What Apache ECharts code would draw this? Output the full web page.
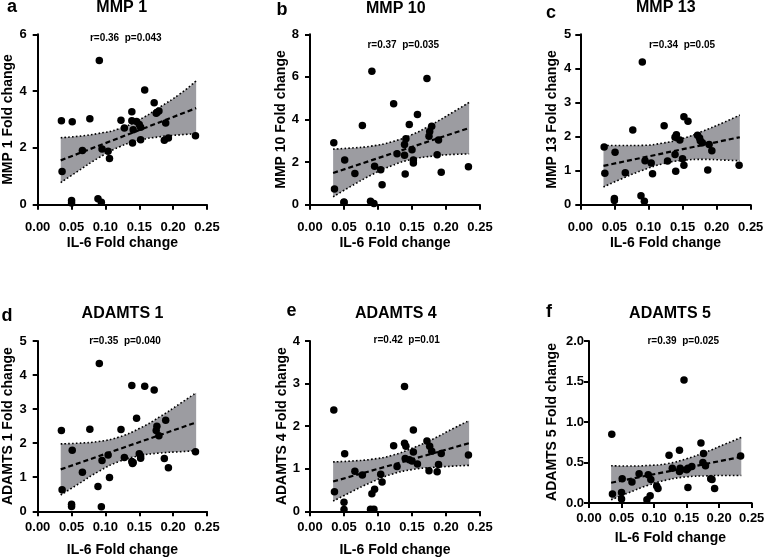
<!DOCTYPE html>
<html>
<head>
<meta charset="utf-8">
<script src="https://cdn.jsdelivr.net/npm/echarts@6/dist/echarts.min.js"></script>
<style>
html,body{margin:0;padding:0;background:#fff;}
#chart{width:765px;height:558px;}
</style>
</head>
<body>
<div id="chart"></div>
<script>
// ---- data ----
const il6 = [0.035, 0.036, 0.050, 0.050, 0.051, 0.066, 0.077, 0.091, 0.089, 0.094, 0.095, 0.104, 0.106, 0.123, 0.128, 0.139, 0.139, 0.140, 0.141, 0.146, 0.150, 0.152, 0.152, 0.158, 0.172, 0.175, 0.176, 0.179, 0.187, 0.189, 0.193, 0.233];
const mmp1 = [2.96, 1.17, 0.15, 0.06, 2.92, 1.91, 3.03, 5.08, 0.21, 0.09, 1.96, 1.88, 1.63, 2.97, 2.70, 2.96, 3.27, 2.17, 2.64, 2.93, 2.82, 2.73, 2.29, 4.04, 3.59, 3.22, 3.25, 3.30, 2.27, 2.88, 2.35, 2.43];
const mmp10 = [2.91, 0.74, 0.13, 0.10, 2.10, 1.46, 3.72, 6.26, 0.16, 0.06, 1.80, 1.64, 0.94, 4.74, 2.39, 2.83, 2.32, 1.44, 3.10, 3.77, 2.58, 2.10, 1.96, 4.24, 5.92, 3.21, 3.44, 3.68, 2.35, 3.04, 1.52, 1.78];
const mmp13 = [1.69, 0.92, 0.18, 0.12, 1.54, 0.94, 2.19, 4.19, 0.26, 0.10, 1.29, 1.22, 0.91, 2.32, 1.28, 1.98, 1.47, 0.98, 2.05, 1.90, 1.35, 1.16, 2.58, 2.45, 2.04, 1.96, 1.88, 1.82, 1.02, 1.77, 1.58, 1.16];
const adamts1 = [2.37, 0.63, 0.21, 0.14, 1.79, 1.15, 2.41, 4.34, 0.73, 0.13, 1.49, 1.65, 0.99, 2.40, 1.58, 1.46, 3.69, 1.40, 1.43, 2.73, 1.69, 1.62, 1.56, 3.67, 3.56, 2.37, 2.50, 2.22, 1.55, 2.67, 1.28, 1.75];
const adamts4 = [2.38, 0.46, 0.21, 0.04, 1.35, 0.94, 0.85, 0.41, 0.05, 0.05, 0.52, 0.87, 0.69, 1.54, 1.05, 1.60, 2.93, 1.24, 1.53, 1.21, 1.18, 1.39, 1.91, 1.11, 1.65, 0.95, 1.53, 1.41, 0.93, 1.10, 1.36, 1.32];
const adamts5 = [0.85, 0.11, 0.05, 0.13, 0.30, 0.26, 0.36, 0.35, 0.04, 0.09, 0.29, 0.21, 0.18, 0.59, 0.43, 0.65, 0.39, 0.43, 0.41, 1.52, 0.41, 0.19, 0.43, 0.45, 0.74, 0.50, 0.61, 0.46, 0.30, 0.29, 0.18, 0.58];

// fitted line ends and 95% band
const bandX = [0.034, 0.06, 0.09, 0.12, 0.15, 0.18, 0.21, 0.234];
const fitA = [1.56, 3.40];
const upA = [2.36, 2.41, 2.51, 2.67, 2.99, 3.43, 3.90, 4.36];
const loA = [0.78, 1.19, 1.65, 2.03, 2.27, 2.39, 2.46, 2.50];
const fitB = [1.49, 3.60];
const upB = [2.61, 2.66, 2.75, 2.95, 3.29, 3.78, 4.34, 4.80];
const loB = [0.37, 0.86, 1.39, 1.83, 2.13, 2.28, 2.36, 2.38];
const fitC = [1.14, 1.98];
const upC = [1.74, 1.735, 1.74, 1.805, 1.94, 2.16, 2.41, 2.63];
const loC = [0.52, 0.755, 1.00, 1.195, 1.30, 1.33, 1.31, 1.29];
const fitD = [1.23, 2.61];
const upD = [1.98, 2.00, 2.05, 2.18, 2.43, 2.77, 3.16, 3.48];
const loD = [0.48, 0.80, 1.17, 1.46, 1.63, 1.71, 1.75, 1.78];
const fitE = [0.70, 1.60];
const upE = [1.16, 1.18, 1.22, 1.31, 1.48, 1.69, 1.94, 2.13];
const loE = [0.24, 0.45, 0.68, 0.87, 0.98, 1.03, 1.06, 1.08];
const fitF = [0.25, 0.57];
const upF = [0.46, 0.456, 0.463, 0.485, 0.547, 0.63, 0.73, 0.81];
const loF = [0.04, 0.124, 0.217, 0.285, 0.323, 0.335, 0.34, 0.34];

const xTicks = {min: 0, max: 0.25, step: 0.05};
const letters = ['a', 'b', 'c', 'd', 'e', 'f'];
const titles = ['MMP 1', 'MMP 10', 'MMP 13', 'ADAMTS 1', 'ADAMTS 4', 'ADAMTS 5'];
const yNames = ['MMP 1 Fold change', 'MMP 10 Fold change', 'MMP 13 Fold change', 'ADAMTS 1 Fold change', 'ADAMTS 4 Fold change', 'ADAMTS 5 Fold change'];
const stats = ['r=0.36  p=0.043', 'r=0.37  p=0.035', 'r=0.34  p=0.05', 'r=0.35  p=0.040', 'r=0.42  p=0.01', 'r=0.39  p=0.025'];
const yMax = [6, 8, 5, 5, 4, 2];
const yStep = [2, 2, 1, 1, 1, 0.5];
const yDec = [0, 0, 0, 0, 0, 1];

const panelY = [mmp1, mmp10, mmp13, adamts1, adamts4, adamts5];
const panelFit = [fitA, fitB, fitC, fitD, fitE, fitF];
const panelUp = [upA, upB, upC, upD, upE, upF];
const panelLo = [loA, loB, loC, loD, loE, loF];

// ---- layout (pixels) ----
const layout = [
  {l: 37.7, t: 34.3, w: 169.3, h: 170.4, yLblM: 11, yNameGap: 21, xLblM: 16.5, xNameGap: 31.5,
   letter: [7, 7.5], title: [121.7, 8], stat: [125.8, 38]},
  {l: 310, t: 34.3, w: 170, h: 170.4, yLblM: 11, yNameGap: 21, xLblM: 16.5, xNameGap: 31.5,
   letter: [276.5, 10], title: [395.8, 8.5], stat: [403.3, 45]},
  {l: 580.3, t: 34.3, w: 170.4, h: 170.4, yLblM: 9, yNameGap: 21, xLblM: 16.5, xNameGap: 31.5,
   letter: [546, 13.5], title: [665.8, 8], stat: [682, 45]},
  {l: 37.7, t: 341, w: 169.3, h: 170.3, yLblM: 11, yNameGap: 21, xLblM: 9.5, xNameGap: 31.5,
   letter: [1.5, 316], title: [122.5, 314], stat: [125, 341]},
  {l: 310, t: 341, w: 170, h: 170.3, yLblM: 10, yNameGap: 21, xLblM: 9.5, xNameGap: 31.5,
   letter: [286.5, 311.5], title: [395.8, 313.5], stat: [406.7, 340.5]},
  {l: 589, t: 341, w: 162.7, h: 162, yLblM: 5, yNameGap: 30, xLblM: 8.5, xNameGap: 28,
   letter: [546, 312], title: [670, 313.5], stat: [683.3, 341]}
];

const FONT = '"Liberation Sans", Arial, sans-serif';
const BLACK = '#000';
const BAND = '#9c9ca1';

const grids = [], xAxes = [], yAxes = [], series = [], graphics = [];

for (let i = 0; i < 6; i++) {
  const L = layout[i];
  grids.push({left: L.l, top: L.t, width: L.w, height: L.h, containLabel: false, outerBoundsMode: 'none'});
  xAxes.push({
    gridIndex: i, type: 'value', min: xTicks.min, max: xTicks.max, interval: xTicks.step, z: 3,
    name: 'IL-6 Fold change', nameLocation: 'middle', nameGap: L.xNameGap,
    nameTextStyle: {fontSize: 14, fontWeight: 'bold', color: BLACK, fontFamily: FONT},
    axisLine: {show: true, onZero: false, lineStyle: {color: BLACK, width: 2}},
    axisTick: {show: true, length: 5, lineStyle: {color: BLACK, width: 2}},
    axisLabel: {show: true, margin: L.xLblM, fontSize: 13, fontWeight: 'bold', color: BLACK, fontFamily: FONT,
      formatter: v => v.toFixed(2), showMinLabel: true, showMaxLabel: true, hideOverlap: false},
    splitLine: {show: false}
  });
  const dec = yDec[i];
  yAxes.push({
    gridIndex: i, type: 'value', min: 0, max: yMax[i], interval: yStep[i], z: 3,
    name: yNames[i], nameLocation: 'middle', nameGap: L.yNameGap,
    nameTextStyle: {fontSize: 14, fontWeight: 'bold', color: BLACK, fontFamily: FONT},
    axisLine: {show: true, onZero: false, lineStyle: {color: BLACK, width: 2}},
    axisTick: {show: true, length: 5, lineStyle: {color: BLACK, width: 2}},
    axisLabel: {show: true, margin: L.yLblM, fontSize: 13, fontWeight: 'bold', color: BLACK, fontFamily: FONT,
      formatter: v => v.toFixed(dec), showMinLabel: true, showMaxLabel: true, hideOverlap: false},
    splitLine: {show: false}
  });

  const up = panelUp[i], lo = panelLo[i];
  // data stored as [y, x] with encode so that the y dimension is the stacked one
  // lower bound of confidence band
  series.push({
    type: 'line', xAxisIndex: i, yAxisIndex: i, stack: 'band' + i, smooth: true,
    encode: {x: 1, y: 0},
    symbol: 'none', silent: true, z: 2,
    data: bandX.map((x, k) => [lo[k], x]),
    lineStyle: {color: BLACK, width: 1.6, type: [1.6, 2.2]}
  });
  // band thickness stacked on the lower bound -> upper bound line, grey fill between
  series.push({
    type: 'line', xAxisIndex: i, yAxisIndex: i, stack: 'band' + i, smooth: true,
    encode: {x: 1, y: 0},
    symbol: 'none', silent: true, z: 2,
    data: bandX.map((x, k) => [+(up[k] - lo[k]).toFixed(4), x]),
    lineStyle: {color: BLACK, width: 1.6, type: [1.6, 2.2]},
    areaStyle: {color: BAND, opacity: 1}
  });
  // regression line
  const f = panelFit[i];
  series.push({
    type: 'line', xAxisIndex: i, yAxisIndex: i, symbol: 'none', silent: true, z: 3,
    data: [[bandX[0], f[0]], [bandX[bandX.length - 1], f[1]]],
    lineStyle: {color: BLACK, width: 2.2, type: [5, 3]}
  });
  // points
  series.push({
    type: 'scatter', xAxisIndex: i, yAxisIndex: i, symbol: 'circle', symbolSize: 7.5, z: 4,
    data: il6.map((x, k) => [x, panelY[i][k]]),
    itemStyle: {color: BLACK, opacity: 1}
  });

  graphics.push({type: 'text', x: L.letter[0], y: L.letter[1], z: 10,
    style: {text: letters[i], fill: BLACK, font: 'bold 18px ' + FONT, align: 'left', verticalAlign: 'middle'}});
  graphics.push({type: 'text', x: L.title[0], y: L.title[1], z: 10,
    style: {text: titles[i], fill: BLACK, font: 'bold 16px ' + FONT, align: 'center', verticalAlign: 'middle'}});
  graphics.push({type: 'text', x: L.stat[0], y: L.stat[1], z: 10,
    style: {text: stats[i], fill: BLACK, font: 'bold 10px ' + FONT, align: 'center', verticalAlign: 'middle'}});
}

const chart = echarts.init(document.getElementById('chart'), null, {renderer: 'canvas'});
chart.setOption({
  backgroundColor: '#fff',
  animation: false,
  grid: grids,
  xAxis: xAxes,
  yAxis: yAxes,
  series: series,
  graphic: graphics
});
</script>
</body>
</html>
